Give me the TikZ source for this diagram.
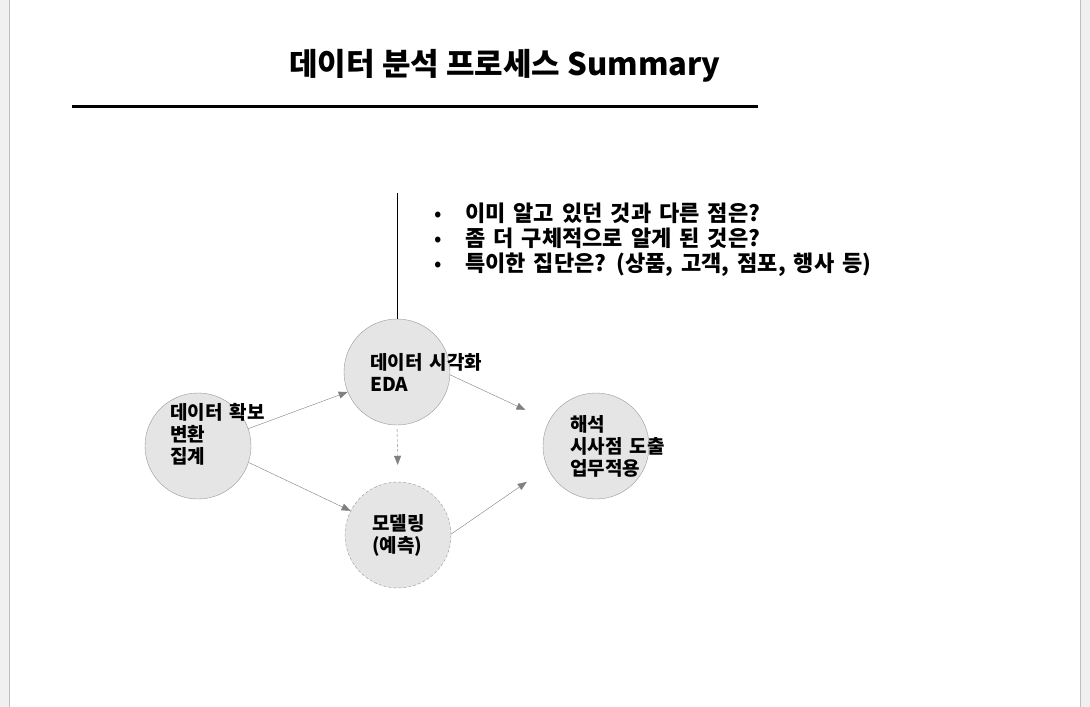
\documentclass[tikz,border=0pt]{standalone}
\usepackage{fontspec}
\setmainfont{Noto Sans CJK KR}
\newfontfamily\krwide{Noto Sans CJK KR}[WordSpace=1.6]
\usetikzlibrary{arrows.meta}

\begin{document}
\begin{tikzpicture}[
  x=1pt, y=-1pt,
  circ/.style={circle, draw=black!40, fill=black!10, minimum size=106pt, inner sep=0pt},
  lbl/.style={anchor=west, align=left, inner sep=0pt, font=\krwide\fontsize{19}{22}\selectfont\bfseries},
  bul/.style={anchor=west, align=left, inner sep=0pt, font=\krwide\fontsize{22}{25}\selectfont\bfseries},
  arr/.style={draw=black!50, -{Triangle[length=9pt,width=7pt]}}
]
\useasboundingbox (0,0) rectangle (1090,707);
\fill[black!6] (0,0) rectangle (1090,707);
\fill[white] (9.5,0) rectangle (1080.5,707);
\draw[black!25] (9.5,0) -- (9.5,707) (1080.5,0) -- (1080.5,707);

\node[font=\fontsize{31}{36}\selectfont\bfseries] (title) at (505,66) {데이터 분석 프로세스 Summary};
\draw[line width=3pt] (72,106) -- (758,106);

\node[circ] (acq) at (198,446) {};
\node[circ] (eda) at (397,372) {};
\node[circ, dash pattern=on 3pt off 2pt] (model) at (398,535) {};
\node[circ] (interp) at (596,446) {};

\node[lbl, xshift=-28pt, yshift=12pt] (acqtxt) at (acq) {데이터 확보\\변환\\집계};
\node[lbl, xshift=-27pt] (edatxt) at (eda) {데이터 시각화\\EDA};
\node[lbl, xshift=-26pt] (modeltxt) at (model) {모델링\\(예측)};
\node[lbl, xshift=-26pt] (interptxt) at (interp) {해석\\시사점 도출\\업무적용};

\coordinate (top) at (397,193);
\draw (eda.north) -- (top);
\node[bul] (qs) at (434,240) {\makebox[31pt][l]{\mdseries •}이미 알고 있던 것과 다른 점은?\\
  \makebox[31pt][l]{\mdseries •}좀 더 구체적으로 알게 된 것은?\\
  \makebox[31pt][l]{\mdseries •}특이한 집단은? (상품, 고객, 점포, 행사 등)};

\draw[arr] (acq.19) -- (eda.202);
\draw[arr] (acq.-18) -- (model.153);
\draw[arr, dash pattern=on 3pt off 2pt, shorten <=4pt, shorten >=17pt] (eda.south) -- (model.north);
\draw[arr, shorten >=26pt] (eda.-3) -- (interp.152);
\draw[arr, shorten >=25pt] (model.1) -- (interp.204);
\end{tikzpicture}
\end{document}
